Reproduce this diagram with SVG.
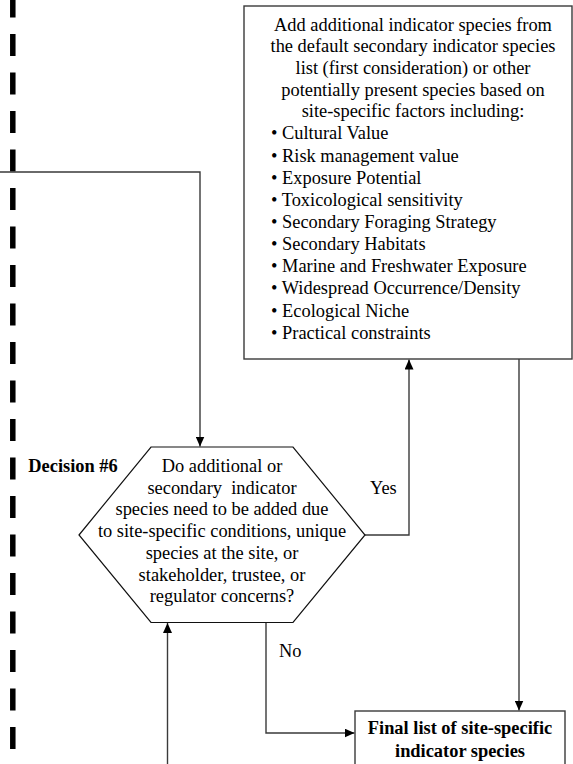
<svg xmlns="http://www.w3.org/2000/svg" width="573" height="764" viewBox="0 0 573 764">
<style>
text{font-family:"Liberation Serif","Times New Roman",serif;font-size:18.4px;fill:#000}
.b{font-weight:bold}
.m{text-anchor:middle}
.box{fill:#fff;stroke:#3a3a3a;stroke-width:1.4}
.con{fill:none;stroke:#3a3a3a;stroke-width:1.4}
</style>
<defs>
<marker id="arr" viewBox="0 0 10 9" refX="10" refY="4.5" markerWidth="10" markerHeight="9" markerUnits="userSpaceOnUse" orient="auto">
<path d="M0,0 L10,4.5 L0,9 z" fill="#000"/>
</marker>
</defs>
<rect width="573" height="764" fill="#fff"/>
<line id="boundary" x1="12.8" y1="0" x2="12.8" y2="764" stroke="#000" stroke-width="5.5" stroke-dasharray="22 16.5" stroke-dashoffset="4.5"/>
<g id="connectors">
<path class="con" d="M0,172 H200 V446.5" marker-end="url(#arr)"/>
<path class="con" d="M365,535 H409 V359.5" marker-end="url(#arr)"/>
<path class="con" d="M519,359 V710.5" marker-end="url(#arr)"/>
<path class="con" d="M266,622.5 V733 H354.5" marker-end="url(#arr)"/>
<path class="con" d="M167.5,764 V623" marker-end="url(#arr)"/>
<text x="370" y="493.5">Yes</text>
<text x="279" y="657">No</text>
</g>
<g id="add-species">
<rect class="box" x="244" y="6" width="328" height="353"/>
<text class="m" x="413" y="30.7">Add additional indicator species from</text>
<text class="m" x="413" y="52.3">the default secondary indicator species</text>
<text class="m" x="413" y="74">list (first consideration) or other</text>
<text class="m" x="413" y="95.7">potentially present species based on</text>
<text class="m" x="413" y="117">site-specific factors including:</text>
<text x="271" y="139.3">• Cultural Value</text>
<text x="271" y="161.5">• Risk management value</text>
<text x="271" y="183.6">• Exposure Potential</text>
<text x="271" y="205.8">• Toxicological sensitivity</text>
<text x="271" y="227.9">• Secondary Foraging Strategy</text>
<text x="271" y="250.1">• Secondary Habitats</text>
<text x="271" y="272.2">• Marine and Freshwater Exposure</text>
<text x="271" y="294.4">• Widespread Occurrence/Density</text>
<text x="271" y="316.5">• Ecological Niche</text>
<text x="271" y="338.7">• Practical constraints</text>
</g>
<g id="decision6">
<polygon class="box" points="79,535 151,447 293,447 365,535 293,622.5 151,622.5" style="stroke:#111;stroke-width:1.2"/>
<text class="b" x="28.3" y="471.7">Decision #6</text>
<text class="m" x="222" y="471.7">Do additional or</text>
<text class="m" x="222" y="493.5" xml:space="preserve">secondary  indicator</text>
<text class="m" x="222" y="515.2">species need to be added due</text>
<text class="m" x="222" y="537">to site-specific conditions, unique</text>
<text class="m" x="222" y="558.8">species at the site, or</text>
<text class="m" x="222" y="580.5">stakeholder, trustee, or</text>
<text class="m" x="222" y="602.3">regulator concerns?</text>
</g>
<g id="final-list">
<rect class="box" x="355" y="711" width="210" height="70"/>
<text class="m b" x="460" y="734">Final list of site-specific</text>
<text class="m b" x="460" y="757">indicator species</text>
</g>
</svg>
